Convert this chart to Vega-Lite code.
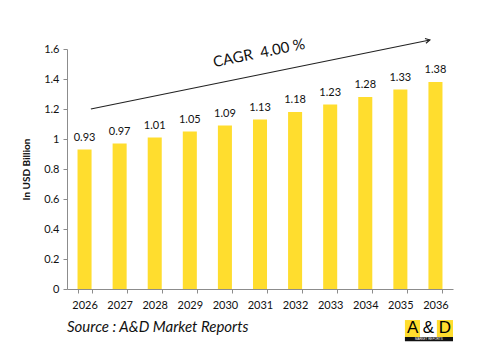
{
  "$schema": "https://vega.github.io/schema/vega-lite/v6.json",
  "width": 386,
  "height": 240,
  "autosize": {"type": "none"},
  "padding": {"left": 67, "top": 49, "right": 27, "bottom": 74},
  "background": "white",
  "config": {
    "view": {"stroke": null},
    "font": "Lato",
    "axis": {
      "grid": false,
      "domainColor": "#8c8c8c",
      "tickColor": "#8c8c8c",
      "tickSize": 4,
      "labelFontSize": 11,
      "labelColor": "#111111"
    },
    "axisY": {
      "labelOverlap": false,
      "labelPadding": 4,
      "titleFontSize": 10,
      "titleFontWeight": "bold",
      "titleColor": "#111111",
      "titlePadding": 12
    }
  },
  "datasets": {
    "market": [
      {"year": "2026", "value": 0.93},
      {"year": "2027", "value": 0.97},
      {"year": "2028", "value": 1.01},
      {"year": "2029", "value": 1.05},
      {"year": "2030", "value": 1.09},
      {"year": "2031", "value": 1.13},
      {"year": "2032", "value": 1.18},
      {"year": "2033", "value": 1.23},
      {"year": "2034", "value": 1.28},
      {"year": "2035", "value": 1.33},
      {"year": "2036", "value": 1.38}
    ],
    "one": [{}]
  },
  "resolve": {"scale": {"x": "independent"}},
  "layer": [
    {
      "data": {"name": "market"},
      "encoding": {
        "x": {
          "field": "year",
          "type": "ordinal",
          "title": null,
          "scale": {"paddingInner": 0.6, "paddingOuter": 0.3},
          "axis": {"labelAngle": 0, "tickBand": "extent", "labelPadding": 6}
        },
        "y": {
          "field": "value",
          "type": "quantitative",
          "title": "In USD Billion",
          "scale": {"domain": [0, 1.6]},
          "axis": {"values": [0, 0.2, 0.4, 0.6, 0.8, 1, 1.2, 1.4, 1.6], "format": "~g"}
        }
      },
      "layer": [
        {"mark": {"type": "bar", "color": "#FFDD2E"}},
        {
          "mark": {"type": "text", "baseline": "bottom", "dy": -7, "fontSize": 11, "color": "#111111"},
          "encoding": {"text": {"field": "value", "type": "quantitative", "format": ".2f"}}
        }
      ]
    },
    {
      "data": {"name": "one"},
      "layer": [
        {
          "mark": {"type": "rule", "stroke": "#222222", "strokeWidth": 1.2, "clip": false},
          "encoding": {
            "x": {"datum": 0.68, "type": "quantitative", "scale": {"domain": [0, 11]}, "axis": null},
            "y": {"datum": 1.2, "type": "quantitative", "title": "In USD Billion", "scale": {"domain": [0, 1.6]}, "axis": {"values": [0, 0.2, 0.4, 0.6, 0.8, 1, 1.2, 1.4, 1.6], "format": "~g"}},
            "x2": {"datum": 10.34},
            "y2": {"datum": 1.66}
          }
        },
        {
          "mark": {"type": "point", "shape": "M-1,-0.55L0,0L-1,0.55", "filled": false, "stroke": "#222222", "strokeWidth": 1.2, "size": 80, "angle": 348.5, "opacity": 1, "clip": false},
          "encoding": {
            "x": {"datum": 10.34, "type": "quantitative", "scale": {"domain": [0, 11]}, "axis": null},
            "y": {"datum": 1.66, "type": "quantitative", "title": "In USD Billion", "scale": {"domain": [0, 1.6]}, "axis": {"values": [0, 0.2, 0.4, 0.6, 0.8, 1, 1.2, 1.4, 1.6], "format": "~g"}}
          }
        },
        {
          "mark": {"type": "text", "text": "CAGR\u00a0 4.00 %", "fontSize": 15, "angle": 348.5, "color": "#111111", "align": "center", "baseline": "middle"},
          "encoding": {
            "x": {"datum": 5.47, "type": "quantitative", "scale": {"domain": [0, 11]}, "axis": null},
            "y": {"datum": 1.573, "type": "quantitative", "title": "In USD Billion", "scale": {"domain": [0, 1.6]}, "axis": {"values": [0, 0.2, 0.4, 0.6, 0.8, 1, 1.2, 1.4, 1.6], "format": "~g"}}
          }
        },
        {
          "mark": {"type": "text", "text": "Source : A&D Market Reports", "fontSize": 15, "fontStyle": "italic", "color": "#111111", "align": "left", "baseline": "middle"},
          "encoding": {
            "x": {"datum": 0, "type": "quantitative", "scale": {"domain": [0, 11]}, "axis": null},
            "y": {"datum": -0.255, "type": "quantitative", "title": "In USD Billion", "scale": {"domain": [0, 1.6]}, "axis": {"values": [0, 0.2, 0.4, 0.6, 0.8, 1, 1.2, 1.4, 1.6], "format": "~g"}}
          }
        },
        {
          "mark": {"type": "rect", "color": "#FFDD2E", "clip": false},
          "encoding": {
            "x": {"datum": 9.63, "type": "quantitative", "scale": {"domain": [0, 11]}, "axis": null},
            "x2": {"datum": 10.06},
            "y": {"datum": -0.207, "type": "quantitative", "title": "In USD Billion", "scale": {"domain": [0, 1.6]}, "axis": {"values": [0, 0.2, 0.4, 0.6, 0.8, 1, 1.2, 1.4, 1.6], "format": "~g"}},
            "y2": {"datum": -0.32}
          }
        },
        {
          "mark": {"type": "rect", "color": "#FFDD2E", "clip": false},
          "encoding": {
            "x": {"datum": 10.54, "type": "quantitative", "scale": {"domain": [0, 11]}, "axis": null},
            "x2": {"datum": 11.0},
            "y": {"datum": -0.207, "type": "quantitative", "title": "In USD Billion", "scale": {"domain": [0, 1.6]}, "axis": {"values": [0, 0.2, 0.4, 0.6, 0.8, 1, 1.2, 1.4, 1.6], "format": "~g"}},
            "y2": {"datum": -0.32}
          }
        },
        {
          "mark": {"type": "rect", "color": "#111111", "clip": false},
          "encoding": {
            "x": {"datum": 9.63, "type": "quantitative", "scale": {"domain": [0, 11]}, "axis": null},
            "x2": {"datum": 11.0},
            "y": {"datum": -0.32, "type": "quantitative", "title": "In USD Billion", "scale": {"domain": [0, 1.6]}, "axis": {"values": [0, 0.2, 0.4, 0.6, 0.8, 1, 1.2, 1.4, 1.6], "format": "~g"}},
            "y2": {"datum": -0.348}
          }
        },
        {
          "mark": {"type": "text", "text": "A", "font": "Liberation Sans", "fontSize": 17, "color": "#000000", "align": "center", "baseline": "middle"},
          "encoding": {
            "x": {"datum": 9.85, "type": "quantitative", "scale": {"domain": [0, 11]}, "axis": null},
            "y": {"datum": -0.262, "type": "quantitative", "title": "In USD Billion", "scale": {"domain": [0, 1.6]}, "axis": {"values": [0, 0.2, 0.4, 0.6, 0.8, 1, 1.2, 1.4, 1.6], "format": "~g"}}
          }
        },
        {
          "mark": {"type": "text", "text": "&", "font": "Liberation Sans", "fontSize": 17, "color": "#000000", "align": "center", "baseline": "middle"},
          "encoding": {
            "x": {"datum": 10.3, "type": "quantitative", "scale": {"domain": [0, 11]}, "axis": null},
            "y": {"datum": -0.262, "type": "quantitative", "title": "In USD Billion", "scale": {"domain": [0, 1.6]}, "axis": {"values": [0, 0.2, 0.4, 0.6, 0.8, 1, 1.2, 1.4, 1.6], "format": "~g"}}
          }
        },
        {
          "mark": {"type": "text", "text": "D", "font": "Liberation Sans", "fontSize": 17, "color": "#000000", "align": "center", "baseline": "middle"},
          "encoding": {
            "x": {"datum": 10.77, "type": "quantitative", "scale": {"domain": [0, 11]}, "axis": null},
            "y": {"datum": -0.262, "type": "quantitative", "title": "In USD Billion", "scale": {"domain": [0, 1.6]}, "axis": {"values": [0, 0.2, 0.4, 0.6, 0.8, 1, 1.2, 1.4, 1.6], "format": "~g"}}
          }
        },
        {
          "mark": {"type": "text", "text": "MARKET REPORTS", "font": "Liberation Sans", "fontSize": 3, "color": "#ffffff", "align": "center", "baseline": "middle"},
          "encoding": {
            "x": {"datum": 10.31, "type": "quantitative", "scale": {"domain": [0, 11]}, "axis": null},
            "y": {"datum": -0.334, "type": "quantitative", "title": "In USD Billion", "scale": {"domain": [0, 1.6]}, "axis": {"values": [0, 0.2, 0.4, 0.6, 0.8, 1, 1.2, 1.4, 1.6], "format": "~g"}}
          }
        }
      ]
    }
  ]
}
